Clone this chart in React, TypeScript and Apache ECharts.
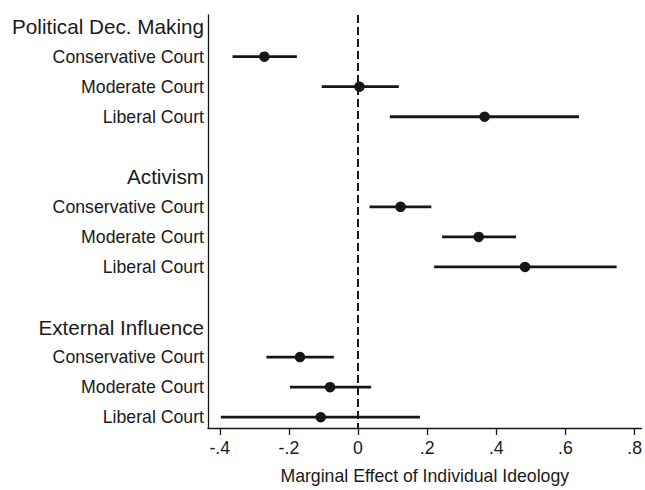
import React, { useEffect, useRef } from "react";
import * as echarts from "echarts";

const groups = ["Political Dec. Making", "Activism", "External Influence"];
const courts = ["Conservative Court", "Moderate Court", "Liberal Court"];

// point estimates per group (Conservative, Moderate, Liberal)
const estPolitical = [-0.271, 0.004, 0.366];
const estActivism = [0.123, 0.349, 0.483];
const estExternal = [-0.168, -0.081, -0.108];

// lower bounds
const loPolitical = [-0.363, -0.105, 0.092];
const loActivism = [0.033, 0.243, 0.22];
const loExternal = [-0.265, -0.197, -0.397];

// upper bounds
const hiPolitical = [-0.177, 0.118, 0.639];
const hiActivism = [0.212, 0.457, 0.748];
const hiExternal = [-0.07, 0.038, 0.179];

const xTicks = [-0.4, -0.2, 0, 0.2, 0.4, 0.6, 0.8];
const xTitle = "Marginal Effect of Individual Ideology";

export default function App() {
  const ref = useRef<HTMLDivElement>(null);
  useEffect(() => {
    if (!ref.current) return;
    const chart = echarts.init(ref.current, undefined, { renderer: "svg" });

    const est = [estPolitical, estActivism, estExternal];
    const lo = [loPolitical, loActivism, loExternal];
    const hi = [hiPolitical, hiActivism, hiExternal];

    const rowLabels: { text: string; header: boolean }[] = [];
    const points: number[][] = [];
    const bars: number[][] = [];
    groups.forEach((g, gi) => {
      rowLabels.push({ text: g, header: true });
      courts.forEach((c, ci) => {
        const row = rowLabels.length;
        rowLabels.push({ text: c, header: false });
        points.push([est[gi][ci], row]);
        bars.push([lo[gi][ci], hi[gi][ci], row]);
      });
      if (gi < groups.length - 1) rowLabels.push({ text: "", header: false });
    });
    const rowValues = rowLabels.map((_, i) => i);

    const textColor = "#1a1a1a";
    const markColor = "#161616";
    const font = "Liberation Sans, Arial, Helvetica, sans-serif";

    chart.setOption({
      animation: false,
      backgroundColor: "#ffffff",
      grid: { left: 208, right: 0, top: 15, bottom: 58, containLabel: false },
      xAxis: {
        type: "value",
        min: -0.434,
        max: 0.82,
        splitLine: { show: false },
        axisLine: { show: true, onZero: false, lineStyle: { color: markColor, width: 1.3 } },
        axisTick: {
          show: true,
          customValues: xTicks,
          length: 7,
          lineStyle: { color: markColor, width: 1.3 },
        },
        axisLabel: {
          customValues: xTicks,
          margin: 11,
          fontSize: 17.7,
          fontFamily: font,
          color: textColor,
          formatter: (v: number) => {
            if (Math.abs(v) < 1e-9) return "0";
            const s = v.toFixed(1);
            return s.replace("0.", ".");
          },
        },
        name: xTitle,
        nameLocation: "middle",
        nameGap: 39,
        nameTextStyle: { fontSize: 17.7, fontFamily: font, color: textColor },
      },
      yAxis: {
        type: "value",
        inverse: true,
        min: -0.386,
        max: 13.36,
        splitLine: { show: false },
        axisLine: { show: true, onZero: false, lineStyle: { color: markColor, width: 1.3 } },
        axisTick: { show: false },
        axisLabel: {
          customValues: rowValues,
          margin: 4,
          fontFamily: font,
          color: textColor,
          formatter: (v: number) => {
            const r = rowLabels[Math.round(v)];
            if (!r || !r.text) return "";
            return r.header ? "{h|" + r.text + "}" : "{i|" + r.text + "}";
          },
          rich: {
            h: { fontSize: 20.7, fontFamily: font, color: textColor },
            i: { fontSize: 17.7, fontFamily: font, color: textColor },
          },
        },
      },
      series: [
        {
          type: "custom",
          data: bars,
          renderItem: (params: any, api: any) => {
            const a = api.coord([api.value(0), api.value(2)]);
            const b = api.coord([api.value(1), api.value(2)]);
            return {
              type: "line",
              shape: { x1: a[0], y1: a[1], x2: b[0], y2: b[1] },
              style: { stroke: markColor, lineWidth: 2.8 },
            };
          },
          encode: { x: [0, 1], y: 2 },
          z: 3,
        },
        {
          type: "scatter",
          data: points,
          symbol: "circle",
          symbolSize: 10.5,
          itemStyle: { color: markColor, opacity: 1 },
          z: 4,
          markLine: {
            silent: true,
            symbol: ["none", "none"],
            label: { show: false },
            lineStyle: { color: markColor, width: 2, type: [8, 4], opacity: 1 },
            data: [{ xAxis: 0 }],
          },
        },
      ],
    });
    return () => chart.dispose();
  }, []);
  return (
    <div
      ref={ref}
      style={{ position: "fixed", left: 0, top: 0, width: 645, height: 490 }}
    />
  );
}
